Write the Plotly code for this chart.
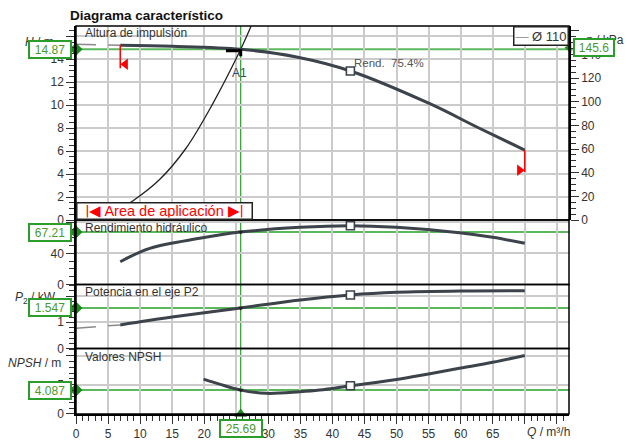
import plotly.graph_objects as go

# ---------------- data ----------------
q_op = 25.69          # operating point flow, m3/h
h_op = 14.87          # head at operating point, m
p_op_kpa = 145.6      # pressure at operating point, kPa
eta_op = 67.21        # efficiency at operating point, %
p2_op = 1.547         # shaft power at operating point, kW
npsh_op = 4.087       # NPSH at operating point, m

q_bep = 42.8          # best efficiency point flow
bep_label = "Rend.  75.4%"

head_q = [6.9, 15, 25.69, 34.4, 42.8, 55.1, 63, 70]
head_h = [15.22, 15.13, 14.87, 14.2, 12.98, 10.15, 7.97, 6.09]
head_ext_q = [0, 6.9]
head_ext_h = [15.3, 15.22]

system_q = [7.5, 8.84, 13.0, 17.16, 21.3, 25.69, 27.3]
system_h = [1.2, 1.65, 3.5, 6.25, 10.1, 14.87, 16.87]

eta_q = [6.9, 11.5, 19.3, 25.69, 34.9, 42.8, 50, 59.8, 65, 70]
eta_v = [29.2, 46.4, 59.2, 67.21, 73.3, 75.4, 73.3, 66.4, 60.5, 52.8]

p2_q = [6.9, 15, 25.69, 35, 42.8, 50, 60, 70]
p2_v = [0.90, 1.2, 1.547, 1.85, 2.04, 2.14, 2.19, 2.2]
p2_ext_q = [0, 6.9]
p2_ext_v = [0.77, 0.90]

npsh_q = [19.9, 22.5, 25.69, 29.7, 34.9, 38, 42.8, 50, 55, 60, 65, 70]
npsh_v = [5.96, 5.06, 4.087, 3.53, 3.8, 4.09, 4.82, 5.9, 6.85, 7.85, 8.85, 10.0]

x_ticks = [0, 5, 10, 15, 20, 25, 30, 35, 40, 45, 50, 55, 60, 65, 70, 75]
x_ticktext = [str(v) for v in x_ticks[:-2]] + [" ", " "]
h_ticks = [0, 2, 4, 6, 8, 10, 12, 14, 16]
h_ticktext = [str(v) for v in h_ticks[:-1]] + [" "]
p_ticks = [0, 20, 40, 60, 80, 100, 120, 140, 160]
p_ticktext = [str(v) for v in p_ticks[:-1]] + [" "]
eta_ticks = [0, 40, 80]
eta_ticktext = ["0", "40", " "]
p2_ticks = [0, 1, 2]
p2_ticktext = ["0", "1", " "]
npsh_ticks = [0, 5, 10]
npsh_ticktext = ["0", "5", " "]

# ---------------- style ----------------
FONT = "Liberation Sans, Arial, sans-serif"
CURVE = "#3d434b"
GRID = "#cbcbcb"
GREEN_LINE = "#5cb85c"
GREEN_V = "#2a9d2a"
GREEN_TXT = "#4a9a2e"
GREEN_MK = "#1c8a1c"
X_RANGE = [0, 76.9]

fig = go.Figure()

def line_trace(x, y, yaxis, color=CURVE, width=3, dash=None, shape="spline"):
    fig.add_trace(go.Scatter(x=x, y=y, mode="lines", xaxis="x", yaxis=yaxis,
                             line=dict(color=color, width=width, dash=dash, shape=shape),
                             hoverinfo="skip", showlegend=False))

# top panel: head + system curve
line_trace(head_ext_q, head_ext_h, "y", color="#8a8a8a", width=1.5, dash="20px,12px", shape="linear")
line_trace(system_q, system_h, "y", color="#222222", width=1.3)
line_trace(head_q, head_h, "y")
# efficiency
line_trace(eta_q, eta_v, "y3")
# power
line_trace(p2_ext_q, p2_ext_v, "y4", color="#8a8a8a", width=1.5, dash="20px,12px", shape="linear")
line_trace(p2_q, p2_v, "y4")
# npsh
line_trace(npsh_q, npsh_v, "y5")

# application range flags (red)
fig.add_trace(go.Scatter(x=[head_q[0], head_q[0]], y=[head_h[0], head_h[0] - 2.0], mode="lines",
                         xaxis="x", yaxis="y", line=dict(color="red", width=1.5),
                         hoverinfo="skip", showlegend=False))
fig.add_trace(go.Scatter(x=[head_q[0] + 0.8], y=[head_h[0] - 1.65], mode="markers",
                         xaxis="x", yaxis="y", marker=dict(symbol="triangle-left", size=10, color="red"),
                         hoverinfo="skip", showlegend=False))
fig.add_trace(go.Scatter(x=[head_q[-1], head_q[-1]], y=[head_h[-1], head_h[-1] - 1.9], mode="lines",
                         xaxis="x", yaxis="y", line=dict(color="red", width=1.5),
                         hoverinfo="skip", showlegend=False))
fig.add_trace(go.Scatter(x=[head_q[-1] - 0.8], y=[head_h[-1] - 1.75], mode="markers",
                         xaxis="x", yaxis="y", marker=dict(symbol="triangle-right", size=10, color="red"),
                         hoverinfo="skip", showlegend=False))

# best efficiency point squares
def bep_marker(qs, vs, yaxis):
    i = qs.index(q_bep)
    fig.add_trace(go.Scatter(x=[q_bep], y=[vs[i]], mode="markers", xaxis="x", yaxis=yaxis,
                             marker=dict(symbol="square", size=8, color="white",
                                         line=dict(color=CURVE, width=1.6)),
                             hoverinfo="skip", showlegend=False))

bep_marker(head_q, head_h, "y")
bep_marker(eta_q, eta_v, "y3")
bep_marker(p2_q, p2_v, "y4")
bep_marker(npsh_q, npsh_v, "y5")

# A1 operating point mark
fig.add_trace(go.Scatter(x=[q_op - 2.3, q_op, q_op], y=[h_op - 0.12, h_op - 0.12, h_op - 0.6],
                         mode="lines", xaxis="x", yaxis="y", line=dict(color="black", width=3),
                         hoverinfo="skip", showlegend=False))
for yax, val in [("y3", eta_op), ("y4", p2_op), ("y5", npsh_op)]:
    fig.add_trace(go.Scatter(x=[q_op], y=[val], mode="markers", xaxis="x", yaxis=yax,
                             marker=dict(symbol="triangle-down", size=5, color="#222"),
                             hoverinfo="skip", showlegend=False))

# green axis-end markers
for yax, val in [("y", h_op), ("y3", eta_op), ("y4", p2_op), ("y5", npsh_op)]:
    fig.add_trace(go.Scatter(x=[0], y=[val], mode="markers", xaxis="x", yaxis=yax, cliponaxis=False,
                             marker=dict(symbol="diamond", size=10, color=GREEN_MK),
                             hoverinfo="skip", showlegend=False))
fig.add_trace(go.Scatter(x=[X_RANGE[1]], y=[p_op_kpa], mode="markers", xaxis="x", yaxis="y2",
                         cliponaxis=False,
                         marker=dict(symbol="triangle-left", size=9, color=GREEN_MK),
                         hoverinfo="skip", showlegend=False))
fig.add_trace(go.Scatter(x=[q_op], y=[0], mode="markers", xaxis="x", yaxis="y5", cliponaxis=False,
                         marker=dict(symbol="triangle-up", size=11, color=GREEN_MK),
                         hoverinfo="skip", showlegend=False))

# ---------------- axes ----------------
tickfont = dict(family=FONT, size=12, color="#333")

def yaxis_cfg(domain, rng, tickvals, ticktext, minor_dtick, **kw):
    d = dict(domain=domain, range=rng, tickvals=tickvals, ticktext=ticktext,
             showgrid=True, gridcolor=GRID, gridwidth=1.6, zeroline=False, automargin=False,
             showline=True, linecolor="black", linewidth=1.5,
             ticks="outside", ticklen=8, tickcolor="#333", tickwidth=1.2,
             tickfont=tickfont, anchor="x", fixedrange=True,
             minor=dict(dtick=minor_dtick, ticks="outside", ticklen=5, tickcolor="#333",
                        tickwidth=1, showgrid=False))
    d.update(kw)
    return d

D1 = [0.5, 1.0]
D2 = [0.3338, 0.5]
D3 = [0.1688, 0.3338]
D4 = [0.0, 0.1688]

fig.update_layout(
    template="none",
    width=627, height=441,
    margin=dict(l=76, r=58, t=26, b=27, autoexpand=False),
    paper_bgcolor="white", plot_bgcolor="white",
    showlegend=False,
    font=dict(family=FONT, size=12, color="#333"),
    xaxis=dict(domain=[0, 1], range=X_RANGE, anchor="y5", tickvals=x_ticks, ticktext=x_ticktext,
               showgrid=True, gridcolor=GRID, gridwidth=1.6, zeroline=False, automargin=False,
               showline=True, linecolor="black", linewidth=1.5,
               ticks="outside", ticklen=8, tickcolor="#333", tickwidth=1.2,
               tickfont=tickfont, fixedrange=True,
               minor=dict(dtick=1, ticks="outside", ticklen=5, tickcolor="#333",
                          tickwidth=1, showgrid=False)),
    yaxis=yaxis_cfg(D1, [0, 16.9], h_ticks, h_ticktext, 0.5),
    yaxis2=dict(overlaying="y", side="right", anchor="x", range=[0, 164],
                tickvals=p_ticks, ticktext=p_ticktext, showgrid=False, zeroline=False,
                automargin=False,
                showline=True, linecolor="black", linewidth=1.5,
                ticks="outside", ticklen=8, tickcolor="#333", tickwidth=1.2,
                tickfont=tickfont, fixedrange=True,
                minor=dict(dtick=5, ticks="outside", ticklen=5, tickcolor="#333",
                           tickwidth=1, showgrid=False)),
    yaxis3=yaxis_cfg(D2, [0, 82.7], eta_ticks, eta_ticktext, 10),
    yaxis4=yaxis_cfg(D3, [0, 2.44], p2_ticks, p2_ticktext, 0.2),
    yaxis5=yaxis_cfg(D4, [0, 11.2], npsh_ticks, npsh_ticktext, 1),
)

# ---------------- shapes ----------------
shapes = []
for yr in ["y", "y3", "y4", "y5"]:
    shapes.append(dict(type="rect", xref="x domain", yref=f"{yr} domain", x0=0, x1=1, y0=0, y1=1,
                       line=dict(color="black", width=1.5), layer="above"))
shapes.append(dict(type="line", xref="x", yref="paper", x0=q_op, x1=q_op, y0=0, y1=1,
                   line=dict(color=GREEN_V, width=1.2), layer="below"))
for yr, val, x1 in [("y", h_op, 1.008), ("y3", eta_op, 1), ("y4", p2_op, 1), ("y5", npsh_op, 1)]:
    shapes.append(dict(type="line", xref="paper", yref=yr, x0=-0.01, x1=x1, y0=val, y1=val,
                       line=dict(color=GREEN_LINE, width=2), layer="below"))
fig.update_layout(shapes=shapes)

# ---------------- annotations ----------------
ann = []
def txt(text, x, y, xref="paper", yref="paper", xanchor="left", yanchor="middle", size=12,
        color="#333", **kw):
    ann.append(dict(text=text, x=x, y=y, xref=xref, yref=yref, xanchor=xanchor, yanchor=yanchor,
                    showarrow=False, font=dict(family=FONT, size=size, color=color), **kw))

PW = 493.0   # plot width px
PH = 388.0   # plot height px

txt("<b>Diagrama característico</b>", -8 / PW, 1 + 11 / PH, size=13.5, color="#111")
txt("Altura de impulsión", 7 / PW, (414 - 33) / PH)
txt("Rendimiento hidráulico", 7 / PW, (414 - 228.3) / PH)
txt("Potencia en el eje P2", 7 / PW, (414 - 291.7) / PH)
txt("Valores NPSH", 7 / PW, (414 - 356.7) / PH)
txt(bep_label, q_bep + 0.2, 13.68, xref="x", yref="y", size=11.5, color="#555")
txt("A1", q_op - 0.2, 12.8, xref="x", yref="y", xanchor="center", size=12, color="#3a4560")

# axis titles (partly covered by the value boxes, as in the reference)
txt("<i>H</i> / m", -20 / PW, 15.55, yref="y", xanchor="right")
txt("<i>P</i><sub>2</sub> / kW", -18 / PW, 1.93, yref="y4", xanchor="right")
txt("<i>NPSH</i> / m", -13 / PW, 8.7, yref="y5", xanchor="right")
txt("<i>p</i> / kPa", (583 - 76) / PW, 1 - 14 / PH, xanchor="left")
txt("<i>Q</i> / m³/h", 70, -18 / PH, xref="x", xanchor="left")

# legend box
ann.append(dict(text="<span style='color:#9a9a9a'>—</span> Ø 110", x=1.0, y=1.0,
                xref="paper", yref="paper", xanchor="right", yanchor="top", showarrow=False,
                font=dict(family=FONT, size=13, color="#333"), bgcolor="white",
                bordercolor="#222", borderwidth=1.5, borderpad=1))

# application range box
ann.append(dict(text="|◀ Area de aplicación ▶|", x=0, y=0, xref="paper", yref="y",
                xanchor="left", yanchor="bottom", showarrow=False, width=172, height=13,
                font=dict(family=FONT, size=14.5, color="red"), bgcolor="white",
                bordercolor="#222", borderwidth=1.5, borderpad=1))

# green value boxes
def vbox(text, x, y, xref, yref, xanchor, width=38):
    ann.append(dict(text=text, x=x, y=y, xref=xref, yref=yref, xanchor=xanchor, yanchor="middle",
                    showarrow=False, width=width, height=13,
                    font=dict(family=FONT, size=12, color=GREEN_TXT), bgcolor="white",
                    bordercolor=GREEN_V, borderwidth=2, borderpad=1))

vbox(f"{h_op:.2f}", -4 / PW, h_op, "paper", "y", "right")
vbox(f"{eta_op:.2f}", -4 / PW, eta_op, "paper", "y3", "right")
vbox(f"{p2_op:.3f}", -4 / PW, p2_op, "paper", "y4", "right")
vbox(f"{npsh_op:.3f}", -4 / PW, npsh_op, "paper", "y5", "right")
vbox(f"{p_op_kpa:.1f}", 4 / PW + 1, p_op_kpa, "paper", "y2", "left", width=36)
vbox(f"{q_op:.2f}", q_op, -14 / PH, "x", "paper", "center")

fig.update_layout(annotations=ann)

fig.write_html("out.html")
